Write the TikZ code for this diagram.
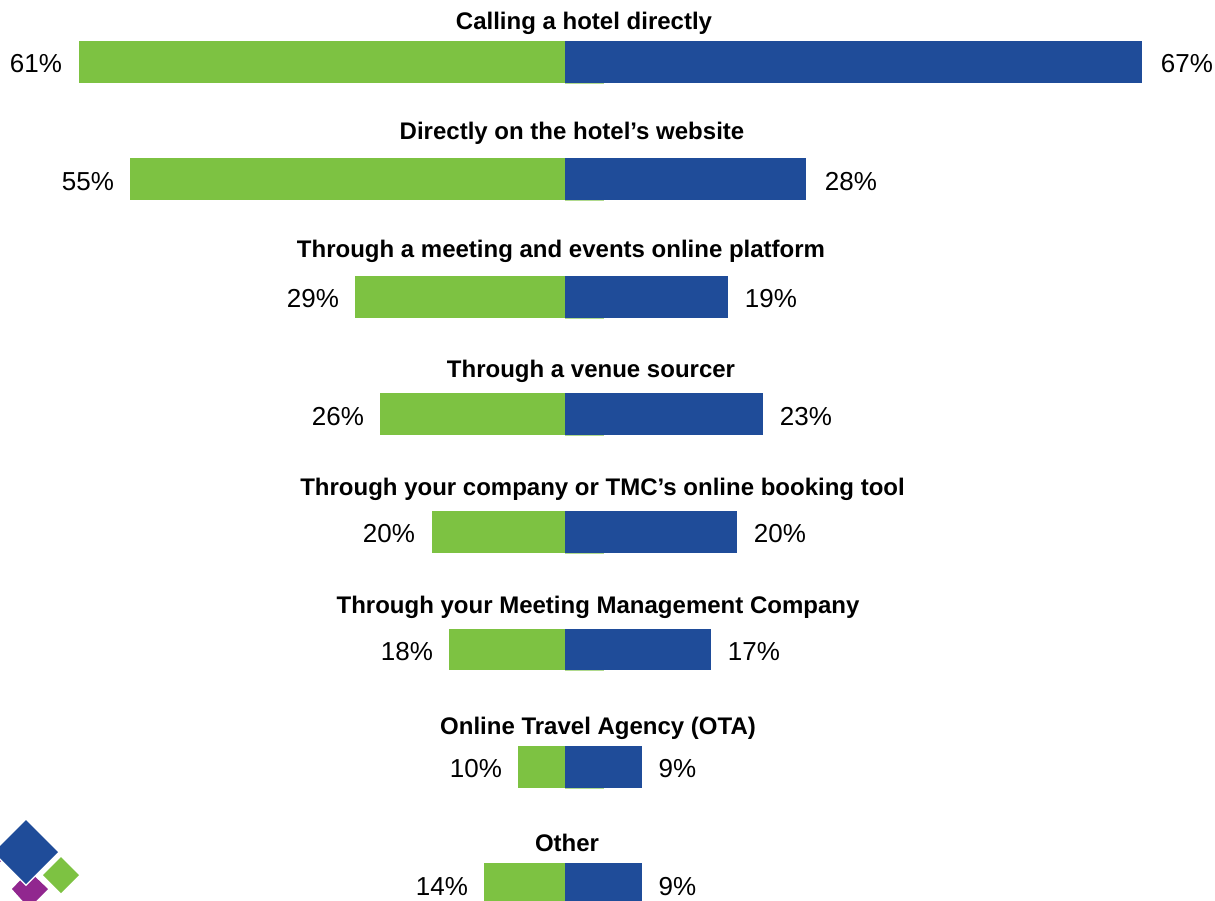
\documentclass[tikz,border=0pt]{standalone}
\usepackage{fontspec}
\setmainfont{Liberation Sans}
\definecolor{barg}{HTML}{7DC242}
\definecolor{barb}{HTML}{1F4C99}
\definecolor{logop}{HTML}{91278F}
\tikzset{
  x=1pt,y=-1pt,
  cat/.style={font=\fontsize{24}{27}\selectfont\bfseries,text=black,inner sep=0pt,anchor=center},
  val/.style={font=\fontsize{26}{29}\selectfont,text=black,inner sep=0pt,anchor=center},
  gbar/.style={fill=barg,draw=none},
  bbar/.style={fill=barb,draw=none},
  fringe/.style={fill=barg,draw=none,opacity=0.6},
}
\newcommand{\rowbar}[8]{%
  \fill[gbar] (#6,#4) rectangle (565,#5);
  \fill[bbar] (565,#4) rectangle (#7,#5);
  \fill[fringe] (565,#5) rectangle (604,#5+1);
  \node[cat] (t#1) at (#8,#3) {#2};
}
\begin{document}
\begin{tikzpicture}
\useasboundingbox (0,0) rectangle (1215,901);
\clip (0,0) rectangle (1215,901);
\rowbar{a}{Calling a hotel directly}{23.5}{41}{83}{79}{1142}{584}
\node[val] (la) at (36,63.7) {61\%};
\node[val] (ra) at (1187,63.7) {67\%};
\rowbar{b}{Directly on the hotel’s website}{133.5}{158}{200}{130}{806}{572}
\node[val] (lb) at (88,181.7) {55\%};
\node[val] (rb) at (851,181.7) {28\%};
\rowbar{c}{Through a meeting and events online platform}{251.5}{276}{318}{355}{728}{561}
\node[val] (lc) at (313,298.7) {29\%};
\node[val] (rc) at (771,298.7) {19\%};
\rowbar{d}{Through a venue sourcer}{371.5}{393}{435}{380}{763}{591}
\node[val] (ld) at (338,416.7) {26\%};
\node[val] (rd) at (806,416.7) {23\%};
\rowbar{e}{Through your company or TMC’s online booking tool}{489.5}{511}{553}{432}{737}{602.5}
\node[val] (le) at (389,533.7) {20\%};
\node[val] (re) at (780,533.7) {20\%};
\rowbar{f}{Through your Meeting Management Company}{607.5}{629}{670}{449}{711}{598}
\node[val] (lf) at (407,651.7) {18\%};
\node[val] (rf) at (754,651.7) {17\%};
\rowbar{g}{Online Travel Agency (OTA)}{728.5}{746}{788}{518}{642}{598}
\node[val] (lg) at (476,768.7) {10\%};
\node[val] (rg) at (677.5,768.7) {9\%};
\rowbar{h}{Other}{843}{863}{901}{484}{642}{567}
\node[val] (lh) at (442,886.7) {14\%};
\node[val] (rh) at (677.5,886.7) {9\%};
% logo
\fill[logop] (29,871) -- (48,889) -- (29,908) -- (12,889) -- cycle;
\fill[logop] (-2,855) -- (2,860) -- (-2,864) -- cycle;
\fill[barg] (61,857) -- (79,875) -- (61,893) -- (43,875) -- cycle;
\fill[white] (26,818) -- (60,852) -- (26,886) -- (-8,852) -- cycle;
\fill[barb] (26,820) -- (58,852) -- (26,884) -- (-6,852) -- cycle;
\end{tikzpicture}
\end{document}
